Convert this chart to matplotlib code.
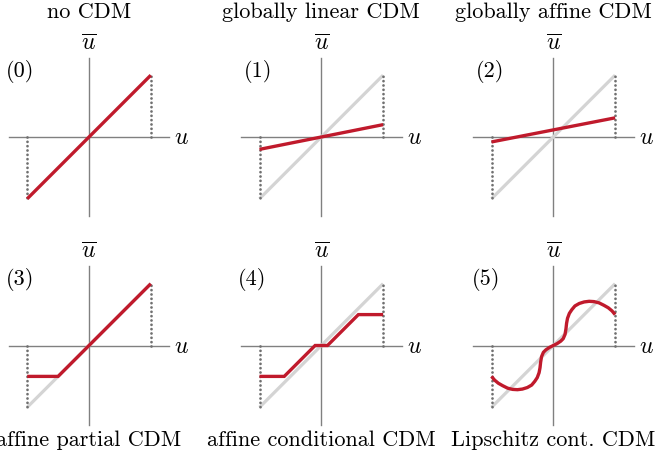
import matplotlib
matplotlib.use("Agg")
import matplotlib.pyplot as plt

plt.rcParams["font.family"] = "serif"
plt.rcParams["font.serif"] = ["cmr10", "DejaVu Serif"]
plt.rcParams["mathtext.fontset"] = "cm"
plt.rcParams["axes.unicode_minus"] = False

RED = "#c01a2c"
LIGHT = "#d4d4d4"
AXIS = "#808080"

top_titles = ["no CDM", "globally linear CDM", "globally affine CDM"]
bottom_titles = ["affine partial CDM", "affine conditional CDM", "Lipschitz cont. CDM"]
panel_tags = ["(0)", "(1)", "(2)", "(3)", "(4)", "(5)"]
tag_x = [-1.12, -1.03, -1.03, -1.12, -1.12, -1.08]

ident_u = [-1.0, 1.0]
ident_v = [-1.0, 1.0]

lin_u = [-1.0, 1.0]
lin_v = [-0.2, 0.2]

aff_u = [-1.0, 1.0]
aff_v = [-0.08, 0.31]

part_u = [-1.0, -0.5, 1.0]
part_v = [-0.5, -0.5, 1.0]

cond_u = [-1.0, -0.6, -0.1, 0.1, 0.6, 1.0]
cond_v = [-0.5, -0.5, 0.0, 0.0, 0.5, 0.5]

lip_u = [-1.00, -0.95, -0.89, -0.82, -0.74, -0.66, -0.58, -0.50, -0.42, -0.35,
         -0.30, -0.26, -0.23, -0.215, -0.205, -0.19, -0.16, -0.12, -0.06, 0.00,
         0.06, 0.12, 0.16, 0.19, 0.205, 0.215, 0.23, 0.26, 0.30, 0.35,
         0.42, 0.50, 0.58, 0.66, 0.74, 0.82, 0.89, 0.95, 1.00]
lip_v = [-0.50, -0.56, -0.61, -0.65, -0.69, -0.71, -0.715, -0.705, -0.68, -0.64,
         -0.58, -0.52, -0.44, -0.36, -0.27, -0.18, -0.11, -0.07, -0.03, 0.00,
         0.03, 0.07, 0.11, 0.18, 0.27, 0.36, 0.44, 0.52, 0.58, 0.64,
         0.68, 0.705, 0.715, 0.71, 0.69, 0.65, 0.61, 0.56, 0.50]

curves = [(ident_u, ident_v), (lin_u, lin_v), (aff_u, aff_v),
          (part_u, part_v), (cond_u, cond_v), (lip_u, lip_v)]

W, H = 658, 460
UNIT = 61.8
col_x = [89, 321.3, 553.3]
row_y = [138, 346.5]
half_w, half_h = 116, 104

fig = plt.figure(figsize=(W / 100, H / 100), dpi=100)

for k, (cu, cv) in enumerate(curves):
    r, c = divmod(k, 3)
    cx, cy = col_x[c], row_y[r]
    ax = fig.add_axes([(cx - half_w) / W, (H - cy - half_h) / H,
                       2 * half_w / W, 2 * half_h / H])
    ax.set_xlim(-half_w / UNIT, half_w / UNIT)
    ax.set_ylim(-half_h / UNIT, half_h / UNIT)
    ax.axis("off")

    # coordinate axes
    ax.plot([-1.3, 1.3], [0, 0], color=AXIS, lw=1.0, zorder=1)
    ax.plot([0, 0], [-1.28, 1.28], color=AXIS, lw=1.0, zorder=1)
    ax.text(1.5, 0, r"$u$", fontsize=17, ha="center", va="center")
    ax.text(0, 1.52, r"$\overline{u}$", fontsize=17, ha="center", va="center")
    ax.text(tag_x[k], 1.08, panel_tags[k], fontsize=16, ha="center", va="center")

    if k > 0:
        ax.plot(ident_u, ident_v, color=LIGHT, lw=2.3, zorder=2,
                solid_capstyle="butt")
    # dotted bounds at u = -1 and u = 1
    for s in (-1, 1):
        ax.plot([s, s], [0, s], color="#707070", lw=2.0, ls=(0, (0.01, 1.55)),
                dash_capstyle="round", zorder=3)
    ax.plot(cu, cv, color=RED, lw=2.4, zorder=4, solid_capstyle="butt",
            solid_joinstyle="miter" if k in (3, 4) else "round")

    if r == 0:
        ax.text(0, (cy - 12) / UNIT, top_titles[c], fontsize=16,
                ha="center", va="center", clip_on=False)
    else:
        ax.text(0, (cy - 440) / UNIT, bottom_titles[c], fontsize=16,
                ha="center", va="center", clip_on=False)

fig.savefig("out.png", dpi=100)
